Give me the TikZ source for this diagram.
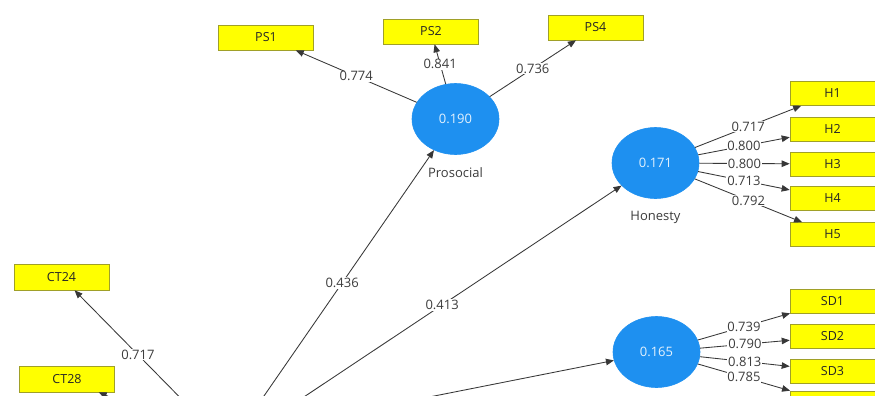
\documentclass[tikz,border=0pt]{standalone}
\usepackage{fontspec}
\setmainfont{Open Sans}
\usetikzlibrary{arrows.meta,shapes.geometric,positioning}
\definecolor{lvblue}{RGB}{30,144,240}
\definecolor{mvyellow}{RGB}{255,255,0}
\definecolor{mvborder}{RGB}{160,160,40}
\definecolor{linegray}{RGB}{55,55,55}
\definecolor{txtgray}{RGB}{60,60,60}
\begin{document}
\begin{tikzpicture}[x=1pt,y=-1pt,
  mv/.style={rectangle, fill=mvyellow, draw=mvborder, line width=0.6pt,
    minimum width=95pt, minimum height=25pt, inner sep=0pt,
    font=\fontsize{12.5}{14}\selectfont, text=black!85},
  mvh/.style={mv, minimum width=85pt, minimum height=24pt},
  lv/.style={ellipse, fill=lvblue, draw=lvblue, line width=0.6pt,
    minimum width=87pt, minimum height=71pt, inner sep=0pt,
    font=\fontsize{13}{15}\selectfont, text=white!88!lvblue},
  lvname/.style={font=\fontsize{13}{15}\selectfont, text=txtgray},
  lbl/.style={fill=white, inner sep=0.8pt, font=\fontsize{13}{15}\selectfont, text=txtgray},
  conn/.style={draw=linegray, line width=0.85pt, -{Triangle[length=8pt,width=6.5pt]}},
]
\useasboundingbox (0,0) rectangle (875,396);
\fill[white] (0,0) rectangle (875,396);

% latent variables
\node[lv] (pros) at (455.5,119) {0.190};
\node[lvname, below=9pt of pros] (prosname) {Prosocial};
\node[lv] (hon) at (655.5,163) {0.171};
\node[lvname, below=9pt of hon] (honname) {Honesty};
\node[lv] (sd) at (656.5,352) {0.165};
\node[lv] (ct) at (228.7,447) {};
\coordinate (src2) at (161.5,450);

% indicators
\node[mv] (ps1) at (266,37.5) {PS1};
\node[mv] (ps2) at (431,31.5) {PS2};
\node[mv] (ps4) at (595.5,27.5) {PS4};
\node[mvh] (h1) at (832.5,93.5) {H1};
\node[mvh] (h2) at (832.5,129) {H2};
\node[mvh] (h3) at (832.5,164) {H3};
\node[mvh] (h4) at (832.5,198.5) {H4};
\node[mvh] (h5) at (832.5,234.5) {H5};
\node[mvh] (sd1) at (832.5,301) {SD1};
\node[mvh] (sd2) at (832.5,336.5) {SD2};
\node[mvh] (sd3) at (832.5,371) {SD3};
\node[mvh] (sd4) at (832.5,403) {};
\node[mv, minimum height=26pt] (ct24) at (61.5,277) {CT24};
\node[mv, minimum height=26pt] (ct28) at (67,379) {CT28};

% outer loadings
\draw[conn] (pros) -- node[lbl]{0.774} (ps1);
\draw[conn] (pros) -- node[lbl]{0.841} (ps2);
\draw[conn] (pros) -- node[lbl]{0.736} (ps4);
\draw[conn] (hon) -- node[lbl]{0.717} (h1);
\draw[conn] (hon) -- node[lbl]{0.800} (h2);
\draw[conn] (hon) -- node[lbl]{0.800} (h3);
\draw[conn] (hon) -- node[lbl]{0.713} (h4);
\draw[conn] (hon) -- node[lbl]{0.792} (h5);
\draw[conn] (sd) -- node[lbl]{0.739} (sd1);
\draw[conn] (sd) -- node[lbl]{0.790} (sd2);
\draw[conn] (sd) -- node[lbl]{0.813} (sd3);
\draw[conn] (sd) -- node[lbl]{0.785} (sd4);
\draw[conn] (ct) -- node[lbl]{0.717} (ct24);
\draw[conn] (ct) -- (ct28);

% path coefficients
\draw[conn] (ct) -- node[lbl]{0.436} (pros);
\draw[conn] (ct) -- node[lbl]{0.413} (hon);
\draw[conn] (src2) -- (sd);
\end{tikzpicture}
\end{document}
